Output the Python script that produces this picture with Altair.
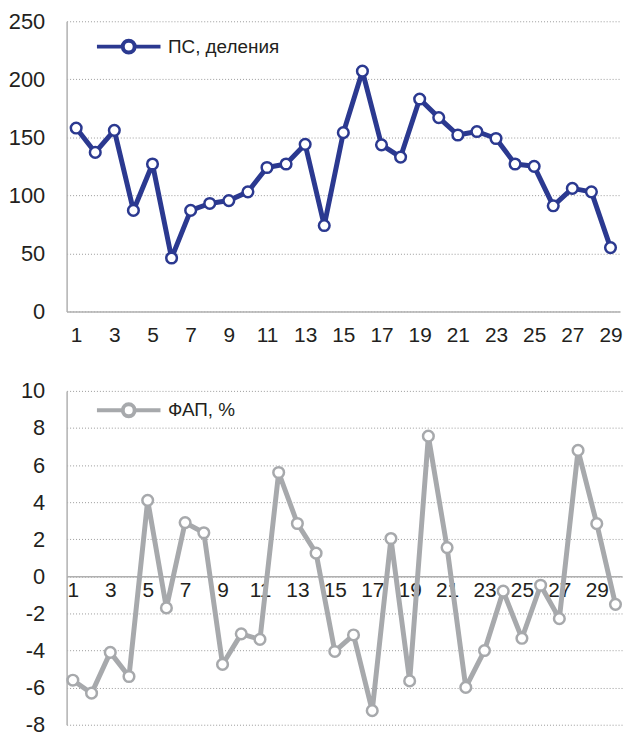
import altair as alt
import pandas as pd

# ---- data ----
ps_name = "ПС, деления"
ps_days = list(range(1, 30))
ps_values = [158, 137, 156, 87, 127, 46, 87, 93, 95.5, 103, 124, 127, 144, 74,
             154, 207, 143.5, 133, 183, 167, 152, 155, 149, 127, 125, 91, 106, 103, 55]

fap_name = "ФАП, %"
fap_days = list(range(1, 31))
fap_values = [-5.6, -6.3, -4.1, -5.4, 4.1, -1.7, 2.9, 2.35, -4.75, -3.1, -3.4, 5.6,
              2.85, 1.25, -4.05, -3.16, -7.24, 2.04, -5.64, 7.56, 1.55, -5.99, -4.0,
              -0.8, -3.34, -0.48, -2.28, 6.79, 2.84, -1.51]

ps_ticks = [0, 50, 100, 150, 200, 250]
fap_ticks = [-8, -6, -4, -2, 0, 2, 4, 6, 8, 10]
x_labels = list(range(1, 30, 2))

# ---- style ----
NAVY = "#2b3990"
GRAY = "#a7a9ac"
FONT = "Liberation Sans"
TEXT = "#231f20"
LEG_PATH = "M-5.33,0L-1,0M1,0L5.33,0M1,0A1,1,0,1,1,-1,0A1,1,0,1,1,1,0"

df_ps = pd.DataFrame({"day": ps_days, "value": ps_values, "series": ps_name})
df_fap = pd.DataFrame({"day": fap_days, "value": fap_values, "series": fap_name})


def panel(df, name, color, ydomain, yticks, xdomain, width, height, leg_y, x_offset, x_pad):
    x = alt.X("day:Q",
              scale=alt.Scale(domain=xdomain, nice=False, zero=False),
              axis=alt.Axis(values=x_labels, labelExpr="'' + datum.value",
                            grid=False, ticks=False, labelFontSize=21,
                            labelPadding=x_pad, offset=x_offset, title=None,
                            labelFlush=False, labelOverlap=False))
    y = alt.Y("value:Q",
              scale=alt.Scale(domain=ydomain, nice=False, zero=False),
              axis=alt.Axis(values=yticks, labelExpr="'' + datum.value",
                            title=None, ticks=False, grid=True, labelFontSize=22,
                            labelPadding=22, labelFlush=False, labelOverlap=False))
    stroke = alt.Stroke(
        "series:N",
        scale=alt.Scale(domain=[name], range=[color]),
        legend=alt.Legend(
            title=None, orient="none", legendX=53, legendY=leg_y,
            symbolType=LEG_PATH, symbolSize=144, symbolStrokeWidth=4,
            symbolFillColor="white", symbolStrokeColor=color, symbolOpacity=1,
            labelFont=FONT, labelFontSize=19, labelColor=TEXT, labelOffset=30,
            padding=0,
        ),
    )
    line = alt.Chart(df).mark_line(strokeWidth=5, color=color, strokeJoin="round").encode(x=x, y=y)
    pts = alt.Chart(df).mark_point(
        filled=True, fill="white", size=115, strokeWidth=2.5, opacity=1
    ).encode(x=x, y=y, stroke=stroke)
    return alt.layer(line, pts).properties(width=width, height=height)


BOTTOM_H = 336
top = panel(df_ps, ps_name, NAVY, [0, 250], ps_ticks, [0.5, 29.5], 557, 292, 16, 0, 13)
bottom = panel(df_fap, fap_name, GRAY, [-8, 10], fap_ticks, [0.667, 30.35], 559, BOTTOM_H, 10,
               -BOTTOM_H * 8 / 18, 3)

chart = (
    alt.vconcat(top, bottom, spacing=35)
    .resolve_scale(stroke="independent", x="independent", y="independent")
    .resolve_legend(stroke="independent")
    .properties(padding={"left": 0, "top": 0, "right": 0, "bottom": 0}, background="white")
    .configure_view(stroke=None)
    .configure_axis(
        labelFont=FONT, labelColor=TEXT,
        domainColor="#b0b0b0", domainWidth=1.5,
        gridColor="#9a9a9a", gridWidth=1, gridDash=[1, 2],
    )
)

chart.save("out.html", embed_options={"renderer": "svg", "actions": False})
